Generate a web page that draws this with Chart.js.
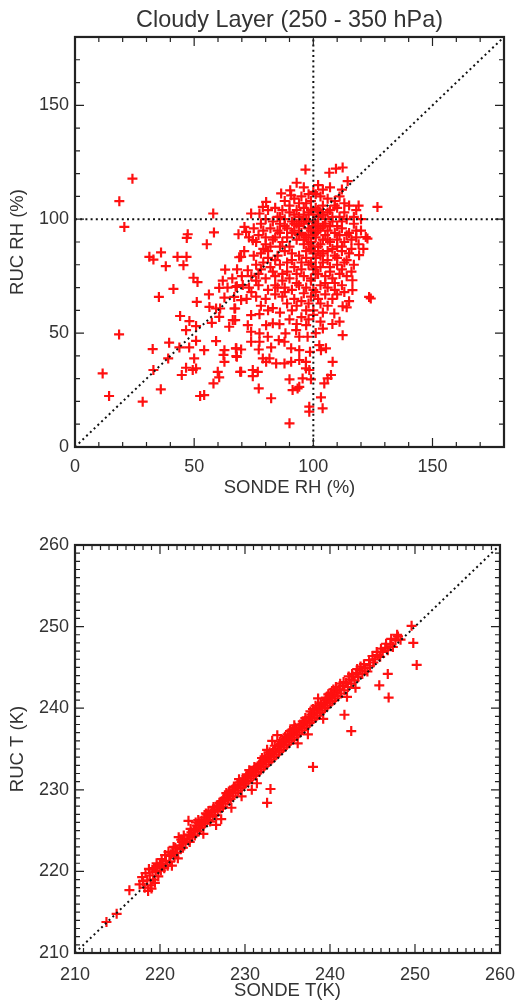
<!DOCTYPE html>
<html><head><meta charset="utf-8">
<script src="https://cdn.jsdelivr.net/npm/chart.js@4/dist/chart.umd.min.js"></script>
<style>
html,body{margin:0;padding:0;background:#fff;}
#c1{position:absolute;left:0;top:0;}
#c2{position:absolute;left:0;top:510px;}
</style></head><body>
<canvas id="c1" width="526" height="510"></canvas>
<canvas id="c2" width="526" height="494"></canvas>
<script>
// ---------- data ----------
const rhTitle = 'Cloudy Layer (250 - 350 hPa)';
const rhXLabel = 'SONDE RH (%)';
const rhYLabel = 'RUC RH (%)';
const tXLabel = 'SONDE T(K)';
const tYLabel = 'RUC T (K)';

const rhRange = [0, 180];
const rhTicks = [0, 50, 100, 150];
const rhMajorStep = 50, rhMinorStep = 10;

const tRange = [210, 260];
const tTicks = [210, 220, 230, 240, 250, 260];
const tMajorStep = 10, tMinorStep = 1;

// reference lines
const rhOneToOne = [[0,0],[180,180]];
const rhLine100H = [[0,100],[180,100]];
const rhLine100V = [[100,0],[100,180]];
const tOneToOne = [[210,210],[260,260]];

// [SONDE RH, RUC RH]
const rhPairs = [
[24.1,117.8],[18.6,107.9],[20.7,96.6],[58,102.5],[47.3,93.4],[46.9,91.8],[58.3,94.2],[55.3,89],[31.2,83.5],[32.9,82.3],
[36.1,85.4],[38.1,79.4],[43,83.5],[46.8,83.5],[45.5,79.8],[49.7,74.3],[51.4,72.4],[41.3,69.4],[35.2,65.9],[56.2,67],
[60.5,69.9],[63,77.9],[67.9,70.6],[68.6,93.4],[68.9,83.3],
[51.1,63.7],[62.7,65.6],[66.8,65.9],[56.4,61.5],[59.2,60.8],[60.9,60.8],[67.2,60.8],[67.2,55.7],[44.1,57.5],[48,55.3],
[50.8,53.1],[57.4,54.5],[60.5,57.1],[64.7,52.8],[46.6,51.3],[18.5,49.4],[39.5,45.8],[50.8,46.6],[59.2,46.5],[32.6,43],
[43.8,43.7],[47.9,43.7],[54.2,42.5],[62.7,42.5],[62.3,40.4],[67.5,43.3],[67.9,39.6],[39.1,38.9],[50,38.9],[62.7,37.4],
[32.9,33.8],[46.6,34.8],[50.8,34.5],[49.4,33.8],[44.8,31.6],[59.9,33],[60.5,30.6],[58.1,27.9],[11.6,32.3],[14.3,22.4],
[36,25.3],[28.4,19.9],[52.5,22.4],[54.2,22.8],[69.3,33],
[66.9,60.8],[66.2,55.7],[69.7,64.5],[73.9,57.9],[77.4,58.3],[72.5,53.5],[73.9,50.6],[77.4,49.9],[80.2,53.5],[83,54.3],
[85.8,53.9],[80.9,48.4],[73.9,46.2],[77.4,46.2],[67.7,43.3],[69.7,42.8],[67.7,39.9],[77.1,42.8],[82.3,43.7],[85.5,46.9],
[87.9,46.2],[88.3,49.9],[92.8,51.3],[94.1,48.4],[97.6,48.4],[90.7,43.3],[94.1,42.5],[98.6,41.8],[102.5,44.7],[103.2,42.5],
[105.3,43.3],[78.8,38.9],[80.2,37.4],[81.6,38.9],[84.4,36.7],[87.9,36.7],[90.7,37.4],[94.1,38.2],[96.9,37.4],[69.7,33],
[74.6,33.8],[74.6,31.1],[76.7,33],[96.9,34.5],[98.3,33.8],[95.5,30.1],[99,29.7],[108.1,37.4],[107.4,31.6],[106,30.1],
[104.6,27.9],[90,29.7],[77.1,25.7],[91.3,25],[93.4,25.7],[94.1,26.4],[82.3,21.4],[103.2,21.8],[98.3,17.7],[98.3,15.5],
[103.9,17],[90,10.4],[124.1,65.2],[108.8,58.6],[112.3,61.8],[114,61.3],[112.3,49.1],
[76,66],[80,65],[84,67],[88,68],[92,65],[96,67.5],[101,68],[105,67],[103,63],[108,65],[78,62],[83,61],[86,59],[81,60],
[95,57],[98,56],[100,58],[93,54],[97,53.5],[103,55],[108,54],[111,55],[101,50],[104,52],[90,56],[110,67],[115,64],[113,68],
[96.7,121.8],[106.7,120.4],[109.5,122.2],[112.3,122.7],[114.4,116.7],[86.5,111.3],[90.3,112.7],[90.7,110.5],[98,111],[101,111],
[80.2,107.6],[78.8,105.4],[73.9,102.5],[77.4,102.5],[71.1,96.6],[71.8,94.4],[74.6,90.8],[69.7,83.5],[72.5,77.6],[67.4,70.3],
[70.4,71.1],[122,92.2],[122.7,91.5],[119.2,84.2],[116.4,73.2],[116.4,68.9],[123.4,65.9],[126.9,105.4],
[92,109],[95,110],[99,108],[103,110],[106,109],[109,108],[100,112],[104,113],[88,108],[111,110],
[84,105],[87,104],[90,106],[93,104],[96,105],[98,103],[101,105],[104,106],[107,104],[110,105],[113,103],[115,106],[118,104],[81,104],[86,101],
[80,100],[83,99],[85,101],[88,100],[91,99],[94,101],[97,100],[100,99],[102,101],[105,100],[108,99],[111,101],[114,100],[117,98],[120,100],[78,98],
[79,95],[82,96],[86,94],[89,96],[92,95],[95,94],[98,96],[101,94],[103,96],[106,95],[109,94],[112,96],[115,94],[118,95],[84,92],
[76,90],[80,89],[83,91],[87,90],[90,88],[93,91],[96,89],[99,90],[102,88],[104,91],[107,90],[110,88],[113,90],[116,91],[119,89],[97,92],
[78,85],[81,86],[85,84],[88,86],[91,85],[94,84],[97,86],[100,85],[103,84],[106,86],[109,84],[112,86],[115,85],[75,84],
[76,80],[79,81],[82,79],[86,80],[89,81],[92,79],[95,81],[98,80],[101,79],[104,81],[107,79],[110,80],[113,81],[117,80],
[74,75],[77,76],[80,74],[84,75],[87,76],[90,74],[93,76],[96,75],[99,74],[102,76],[105,75],[108,74],[111,76],[114,75],
[73,70],[77,71],[81,69],[84,71],[88,70],[91,69],[94,71],[97,70],[100,69],[103,71],[106,70],[109,69],[112,71],
[97,107],[99,104],[100,102],[102,97],[98,93],[100,97],[101,92],[103,103],[105,98],[96,98],[94,97],[92,102],[99,87],[101,83],
[100,78],[99,73],[98,63],[100,60],[99,81],[102,86],
[94,107],[96,102],[98,99],[99,95],[101,98],[102,104],[104,102],[106,103],[107,97],[108,101],[109,106],[110,97],[112,99],[113,107],
[111,93],[105,93],[103,89],[104,85],[106,82],[101,76],[103,79],[105,72],[107,77],[109,72],[112,78],[114,82],[116,77],[110,83],
[97,83],[95,78],[93,72],[91,82],[89,77],[87,73],[86,88],[84,82],[82,88],[80,92],[78,78],[76,73],[74,68],[72,65],[70,75],[68,78],
[66,74],[64,70],[62,73],[71,86],[73,92],[75,96],[77,93],[79,87],[81,83],[83,77],[85,70],[87,66],[89,63],[91,60],[93,62],[95,64],
[97,60],[99,66],[102,65],[104,59],[106,62],[89,92],[91,94],[93,98],[95,99],[88,97],[86,98],[85,95],[90,103],[92,98],[94,93],
[96,91],[98,89],[100,88],[100,93],[102,95],[104,97],[106,91],[108,87],[110,91],[112,88],[114,93],[116,87],[118,92],[120,95],
[121,87],[117,101],[119,106],[112,113],[107,114],[102,115],[96,114],[93,116]
];

// [SONDE T, RUC T]
const tPairs = [
[217.6,218.4],[217.9,219.3],[218.2,218.0],[218.3,219.8],[218.5,218.9],[218.6,217.6],[218.8,219.5],[218.9,218.3],[219.1,220.2],[219.2,219.0],
[219.4,218.6],[219.5,219.9],[219.7,220.6],[219.8,219.4],[220.0,220.8],[220.1,220.1],[218.0,218.8],[218.7,220.3],[219.0,217.9],[219.6,221.0],
[220.3,221.0],[220.5,220.4],[220.7,221.3],[220.9,220.7],[221.1,221.9],[221.2,221.2],[221.4,220.7],[221.5,222.4],[221.7,221.8],[221.8,222.9],
[222.0,222.3],[222.1,221.6],[222.3,223.2],[222.4,222.7],[222.6,223.6],[222.7,222.9],[222.9,224.0],[223.0,223.4],[221.6,223.0],[222.2,224.2],
[223.2,223.9],[223.35,226.2],[223.4,224.5],[223.5,223.6],[223.7,224.8],[223.8,224.2],[224.0,225.1],[224.1,224.4],[224.3,225.6],[224.4,224.9],
[224.6,225.9],[224.7,225.3],[224.9,226.2],[225.0,225.6],[225.2,226.6],[225.3,225.9],[225.5,227.0],[225.6,226.3],[225.8,226.8],[225.9,226.1],
[224.2,226.0],[225.1,224.6],
[226.1,227.3],[226.2,226.7],[226.4,227.6],[226.5,226.9],[226.7,228.1],[226.8,227.4],[227.0,228.4],[227.1,227.7],[227.3,228.6],[227.4,227.9],
[227.6,229.0],[227.7,228.3],[227.9,229.3],[228.0,228.7],[228.2,229.6],[228.3,228.9],[228.5,230.0],[228.6,229.2],[228.8,230.3],[228.9,229.6],
[226.6,225.7],[227.2,226.4],[228.4,227.8],
[229.1,230.6],[229.2,229.9],[229.4,230.9],[229.5,230.2],[229.7,231.2],[229.8,230.5],[230.0,231.4],[230.1,230.8],[230.3,231.7],[230.4,231.1],
[230.6,232.1],[230.7,231.4],[230.9,232.3],[231.0,231.7],[231.2,232.6],[231.3,231.9],[231.5,232.9],[231.6,232.2],[231.8,233.2],[231.9,232.5],
[229.6,229.2],[230.8,230.0],[231.4,230.8],
[232.1,233.5],[232.2,232.8],[232.4,233.8],[232.5,233.1],[232.7,234.1],[232.8,233.4],[233.0,234.4],[233.1,233.7],[233.3,234.7],[233.4,234.0],
[233.6,235.0],[233.7,234.3],[233.9,235.3],[234.0,234.6],[234.2,235.6],[234.3,234.9],[234.5,235.9],[234.6,235.2],[234.8,236.2],[234.9,235.5],
[233.2,236.0],[233.8,236.7],[232.6,234.9],[235.8,237.9],
[235.1,236.4],[235.2,235.8],[235.4,236.7],[235.5,236.1],[235.7,237.0],[235.8,236.4],[236.0,237.3],[236.1,236.7],[236.3,237.6],[236.4,237.0],
[236.6,237.9],[236.7,237.3],[236.9,238.2],[237.0,237.6],[237.2,238.5],[237.3,237.9],[237.5,238.9],[237.6,238.2],[237.8,239.2],[237.9,238.5],
[236.2,235.7],[237.4,236.8],
[238.1,239.5],[238.2,238.8],[238.4,239.8],[238.5,239.1],[238.7,240.1],[238.8,239.4],[239.0,240.4],[239.1,239.7],[239.3,240.7],[239.4,240.0],
[239.6,241.0],[239.7,240.3],[239.9,241.3],[240.0,240.6],[240.2,241.6],[240.3,240.9],[240.5,241.9],[240.6,241.2],[240.8,242.2],[240.9,241.5],
[238.6,241.2],[239.2,238.7],
[241.1,242.3],[241.3,241.8],[241.5,242.7],[241.7,242.2],[241.9,243.1],[242.1,242.6],[242.3,243.5],[242.5,243.0],[242.7,243.9],[242.9,243.4],
[243.1,244.3],[243.3,243.8],[243.5,244.6],[243.8,244.2],[244.1,244.9],[244.4,244.5],[244.7,245.2],[242.0,241.4],[243.0,242.5],
[245.3,246.0],[245.6,246.5],[245.9,246.3],[246.2,246.9],[246.5,247.4],[246.8,247.1],[247.1,247.8],[247.4,247.5],[247.7,248.3],[248.0,248.8],
[248.3,248.4],[245.1,245.6],
[249.6,250.1],[249.8,248.0],[250.2,245.3],[246.8,244.2],[245.8,242.8],[246.9,241.3],[241.7,239.2],[242.5,237.2],[238,232.8],[233,230.1],
[232.6,228.4],[216.4,217.7],[213.7,213.8],[214.9,214.8],
[219.3,220.4],[220.2,221.5],[220.6,222.0],[221.0,222.4],[221.3,222.1],[222.5,223.9],[222.8,224.4],[223.6,225.2],[224.5,226.3],[224.8,225.8],
[225.4,227.1],[225.7,227.4],[226.3,227.9],[226.9,228.0],[227.5,228.9],[227.8,229.6],[228.1,229.8],[228.7,230.4],[229.3,231.3],[229.9,231.0],
[230.2,231.9],[230.5,232.4],[231.1,232.8],[231.7,233.1],[232.0,233.9],[232.3,234.1],[232.9,234.6],[233.5,235.4],[234.1,235.9],[234.4,236.1],
[234.7,236.5],[235.0,236.8],[235.3,237.2],[235.6,237.4],[235.9,237.6],[236.5,238.0],[236.8,238.4],[237.1,238.8],[237.7,239.6],[238.0,239.9],
[238.3,240.3],[238.9,240.6],[239.5,241.3],[239.8,241.7],[240.1,241.9],[240.4,242.3],[240.7,242.6],[241.2,243.0],[241.6,243.2],[242.2,243.9],
[242.6,244.2],[243.2,244.8],[243.6,245.1],[244.0,245.4],[244.6,245.9],[245.0,246.4],[245.5,246.9],[246.0,247.3],[246.6,247.9],[247.2,248.5],
[247.9,249.0]
];

// ---------- helpers ----------
const FONT = "'Liberation Sans', Arial, Helvetica, sans-serif";
const TXT = '#333';
const toXY = arr => arr.map(p => ({x: p[0], y: p[1]}));

function framePlugin(majorStep, minorStep) {
  return {
    id: 'frame',
    afterDatasetsDraw(chart) {
      const {ctx, chartArea: a, scales: {x, y}} = chart;
      ctx.save();
      ctx.strokeStyle = '#222';
      ctx.lineWidth = 1.2;
      const isMajor = v => Math.abs(v / majorStep - Math.round(v / majorStep)) < 1e-6;
      ctx.beginPath();
      for (let v = x.min; v <= x.max + 1e-9; v += minorStep) {
        const p = x.getPixelForValue(v);
        const L = isMajor(v) ? 9 : 5;
        ctx.moveTo(p, a.bottom); ctx.lineTo(p, a.bottom - L);
        ctx.moveTo(p, a.top); ctx.lineTo(p, a.top + L);
      }
      for (let v = y.min; v <= y.max + 1e-9; v += minorStep) {
        const p = y.getPixelForValue(v);
        const L = isMajor(v) ? 9 : 5;
        ctx.moveTo(a.left, p); ctx.lineTo(a.left + L, p);
        ctx.moveTo(a.right, p); ctx.lineTo(a.right - L, p);
      }
      ctx.stroke();
      ctx.lineWidth = 2.2;
      ctx.strokeRect(a.left, a.top, a.right - a.left, a.bottom - a.top);
      ctx.restore();
    }
  };
}

const lineDs = (pts) => ({
  data: toXY(pts), showLine: true, pointRadius: 0, borderColor: '#111',
  borderWidth: 2, borderDash: [2, 3.2], fill: false, order: 0
});
const pointDs = (pts) => ({
  data: toXY(pts), pointStyle: 'cross', pointRadius: 5, pointBorderWidth: 2.2,
  borderColor: '#ff1010', backgroundColor: '#ff1010', showLine: false, order: 1
});

function axis(range, ticks, label, isX, fitSize, tickPad, titlePad) {
  return {
    type: 'linear', min: range[0], max: range[1],
    afterBuildTicks: s => { s.ticks = ticks.map(v => ({value: v})); },
    grid: {display: false, drawTicks: false, tickLength: 0}, border: {display: false},
    ticks: {color: TXT, font: {family: FONT, size: 18}, padding: tickPad, maxRotation: 0, autoSkip: false},
    title: {display: true, text: label, color: TXT, font: {family: FONT, size: 18.5}, padding: titlePad},
    afterFit: s => { if (isX) s.height = fitSize; else s.width = fitSize; }
  };
}

Chart.defaults.animation = false;

new Chart(document.getElementById('c1'), {
  type: 'scatter',
  data: {datasets: [
    lineDs(rhOneToOne), lineDs(rhLine100H), lineDs(rhLine100V), pointDs(rhPairs)
  ]},
  options: {
    responsive: false, animation: false,
    layout: {padding: {left: 0, right: 22, top: 0, bottom: 0}},
    plugins: {
      legend: {display: false}, tooltip: {enabled: false},
      title: {display: true, text: rhTitle, color: TXT, fullSize: false,
        font: {family: FONT, size: 23.4, weight: 'normal'}, padding: {top: 7, bottom: 1.9}}
    },
    scales: {
      x: axis(rhRange, rhTicks, rhXLabel, true, 63, 9, {top: 0, bottom: 11}),
      y: axis(rhRange, rhTicks, rhYLabel, false, 75, 6, {top: 7, bottom: 0})
    }
  },
  plugins: [framePlugin(rhMajorStep, rhMinorStep)]
});

new Chart(document.getElementById('c2'), {
  type: 'scatter',
  data: {datasets: [lineDs(tOneToOne), pointDs(tPairs)]},
  options: {
    responsive: false, animation: false,
    layout: {padding: {left: 0, right: 23, top: 35, bottom: 0}},
    plugins: {legend: {display: false}, tooltip: {enabled: false}},
    scales: {
      x: axis(tRange, tTicks, tXLabel, true, 51, 11, {top: 0, bottom: 2}),
      y: axis(tRange, tTicks, tYLabel, false, 75, 6, {top: 7, bottom: 0})
    }
  },
  plugins: [framePlugin(tMajorStep, tMinorStep)]
});
</script>
</body></html>
